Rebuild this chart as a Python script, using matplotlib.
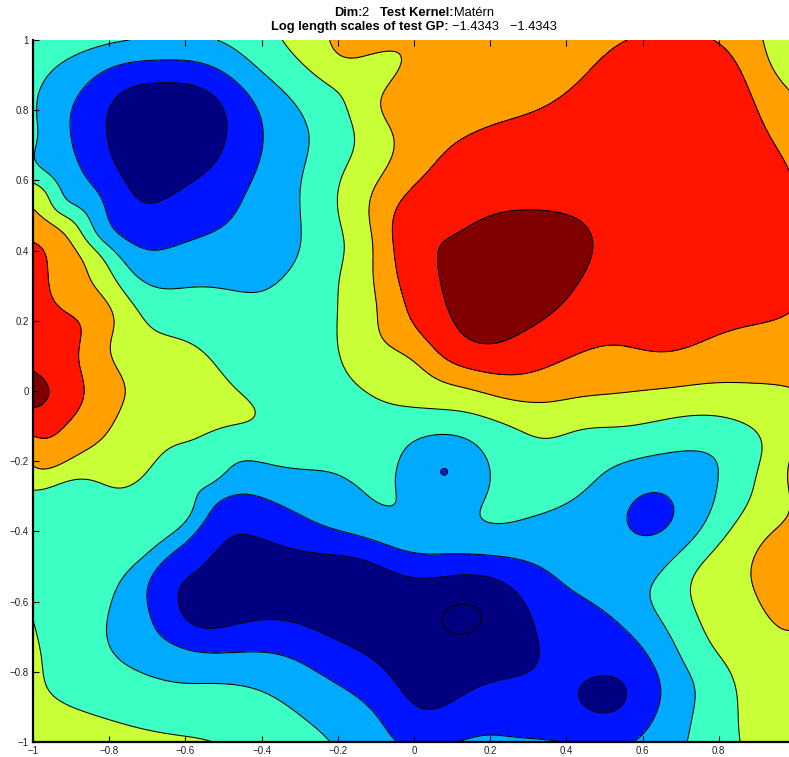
import numpy as np
import matplotlib
matplotlib.use("Agg")
import matplotlib.pyplot as plt

plt.rcParams['font.family'] = ['Liberation Sans', 'DejaVu Sans']

# contour levels (one unit apart) and MATLAB jet(8) band colours
levels = [-4, -3, -2, -1, 0, 1, 2, 3]
band_colors = ['#000080', '#000080', '#0014ff', '#00aaff', '#3cffc3',
               '#c8ff36', '#ffa000', '#ff1400', '#800000']
log_ls = -1.4343

# points read off the contour lines of the picture (x, y) per level
# top-left hole
hole_navy_x = [-0.806, -0.780, -0.719, -0.614, -0.535, -0.491, -0.517, -0.614, -0.701, -0.745, -0.790]
hole_navy_y = [0.735, 0.838, 0.872, 0.877, 0.849, 0.752, 0.658, 0.573, 0.536, 0.573, 0.658]
hole_blue_x = [-0.903, -0.877, -0.790, -0.659, -0.528, -0.430, -0.396, -0.438, -0.517, -0.675, -0.790, -0.832, -0.885]
hole_blue_y = [0.744, 0.849, 0.923, 0.943, 0.923, 0.838, 0.715, 0.573, 0.459, 0.402, 0.467, 0.573, 0.667]
hole_lb_x = [-0.517, -0.396, -0.291, -0.281, -0.299, -0.307, -0.352, -0.483, -0.614, -0.745, -0.832,
             -0.921, -0.990, -0.990, -0.955, -0.832, -0.745]
hole_lb_y = [1.0, 0.906, 0.781, 0.667, 0.524, 0.382, 0.316, 0.288, 0.293, 0.345, 0.430,
             0.524, 0.638, 0.764, 0.906, 0.980, 1.0]

# left edge peak
left_yg_x = [-1.0, -0.903, -0.832, -0.745, -0.633, -0.483, -0.423, -0.438, -0.517, -0.614, -0.719, -0.790, -0.921, -1.0]
left_yg_y = [0.593, 0.507, 0.410, 0.259, 0.154, 0.023, -0.046, -0.091, -0.111, -0.148, -0.254, -0.276, -0.259, -0.282]
left_or_x = [-1.0, -0.921, -0.858, -0.798, -0.780, -0.772, -0.832, -1.0]
left_or_y = [0.510, 0.450, 0.336, 0.145, 0.068, -0.054, -0.148, -0.188]
left_red_x = [-1.0, -0.963, -0.937, -0.877, -0.869, -0.921, -1.0]
left_red_y = [0.422, 0.353, 0.239, 0.068, -0.026, -0.103, -0.131]
left_dr_x = [-1.0, -0.963, -0.955, -0.974, -1.0]
left_dr_y = [0.051, 0.011, -0.006, -0.034, -0.046]

# aquamarine / yellow-green boundary across the middle and right
mid_yg_x = [-0.346, -0.265, -0.186, -0.160, -0.186, -0.194, -0.194, -0.202, -0.168, -0.089, -0.010,
            0.087, 0.260, 0.365, 0.522, 0.698, 0.811, 0.882, 0.916, 0.890, 0.803, 0.732, 0.732,
            0.803, 0.848, 0.856]
mid_yg_y = [1.0, 0.906, 0.829, 0.752, 0.621, 0.479, 0.336, 0.165, 0.040, -0.026, -0.046,
            -0.054, -0.103, -0.134, -0.103, -0.074, -0.074, -0.103, -0.168, -0.282, -0.433, -0.530, -0.604,
            -0.758, -0.872, -1.0]

# top-right high
tr_or_x = [-0.220, -0.168, -0.089, -0.063, -0.081, -0.108, -0.097, -0.081, -0.003, 0.129, 0.260,
           0.436, 0.612, 0.785, 0.874, 0.984, 0.916, 0.942, 0.984]
tr_or_y = [1.0, 0.943, 0.838, 0.752, 0.621, 0.430, 0.239, 0.145, 0.088, 0.011, -0.026,
           -0.017, 0.003, 0.023, 0.023, 0.011, 1.0, 0.923, 0.858]
tr_red_x = [0.559, 0.436, 0.304, 0.173, 0.087, -0.003, -0.058, -0.045, -0.003, 0.087, 0.199,
            0.349, 0.522, 0.654, 0.785, 0.984, 0.785, 0.856, 0.916, 0.984]
tr_red_y = [1.0, 0.886, 0.792, 0.744, 0.687, 0.581, 0.450, 0.336, 0.194, 0.088, 0.051,
            0.068, 0.131, 0.111, 0.154, 0.222, 1.0, 0.915, 0.764, 0.630]
tr_dr_x = [0.063, 0.087, 0.173, 0.304, 0.417, 0.470, 0.436, 0.349, 0.260, 0.192, 0.113, 0.076]
tr_dr_y = [0.353, 0.430, 0.487, 0.516, 0.496, 0.410, 0.316, 0.211, 0.154, 0.134, 0.182, 0.279]

# bottom trough
bt_lb_x = [-0.622, -0.570, -0.483, -0.396, -0.265, -0.134, -0.045, -0.037, -0.010, 0.008, 0.094,
           0.181, 0.199, 0.173, 0.297, 0.383, 0.488, 0.664, 0.785, 0.798, 0.751, 0.646, 0.619,
           0.664, 0.717, 0.732, 0.717, -0.700, -0.798, -0.745, -0.614, -0.438, -0.307, -0.220]
bt_lb_y = [-0.396, -0.274, -0.217, -0.205, -0.225, -0.282, -0.311, -0.197, -0.148, -0.140, -0.125,
           -0.177, -0.262, -0.339, -0.362, -0.330, -0.245, -0.177, -0.188, -0.254, -0.396, -0.519, -0.587,
           -0.681, -0.795, -0.917, -1.0, -0.465, -0.615, -0.786, -0.832, -0.843, -0.917, -1.0]
bt_blue_x = [-0.430, -0.517, -0.570, -0.693, -0.693, -0.614, -0.528, -0.396, -0.220, -0.089, -0.045,
             -0.307, -0.134, -0.010, 0.181, 0.402, 0.575, 0.646, 0.627, 0.575]
bt_blue_y = [-0.296, -0.319, -0.396, -0.538, -0.632, -0.729, -0.746, -0.744, -0.823, -0.937, -1.0,
             -0.348, -0.416, -0.459, -0.467, -0.558, -0.701, -0.832, -0.937, -1.0]
bt_dome_x = [0.115, 0.252, 0.390]
bt_dome_y = [-1.0, -0.985, -1.0]
bt_navy_x = [-0.619, -0.588, -0.483, -0.430, -0.307, -0.134, -0.010, 0.165, 0.270, 0.323, 0.323,
             0.297, 0.139, 0.016, -0.134, -0.307, -0.396, -0.570]
bt_navy_y = [-0.604, -0.538, -0.425, -0.410, -0.453, -0.481, -0.530, -0.524, -0.575, -0.701, -0.775,
             -0.803, -0.860, -0.903, -0.746, -0.661, -0.652, -0.672]
inner_x = [0.076, 0.173, 0.125, 0.125]
inner_y = [-0.655, -0.635, -0.610, -0.690]
small_navy_x = [0.436, 0.554, 0.490, 0.500]
small_navy_y = [-0.850, -0.880, -0.817, -0.915]
small_blue_x = [0.560, 0.680, 0.630, 0.600]
small_blue_y = [-0.360, -0.330, -0.290, -0.410]
right_or_x = [0.984, 0.927, 0.887, 0.908, 0.984]
right_or_y = [-0.348, -0.416, -0.538, -0.604, -0.681]
bl_yg_x = [-1.0, -0.975, -0.955, -0.877, -0.659, -0.528]
bl_yg_y = [-0.652, -0.780, -0.860, -0.909, -0.974, -1.0]

# values read inside the regions (peaks, troughs and plateaus)
inside_x = [-0.65, 0.27, -1.0, -0.25, 0.125, 0.495, 0.62, 0.071, 0.97,
            0.55, 0.75, 0.80, 0.65, 0.30, 0.20, 0.05, 0.90, -0.14, -0.13,
            -0.30, -0.20, 0.45, -0.80, -0.97, -0.45, -0.88, 0.78, 0.85,
            0.45, -0.20, 0.12, -0.72, 0.45, -0.64, 0.20, -0.10, -0.40, 0.20,
            -0.60, -0.82, -0.95, 0.50, 0.90, 0.95, 0.95, -0.97,
            -0.60, -0.80, -0.50, -0.92, -1.0, -0.97, -0.98, -0.90,
            -0.70, -0.65, -0.75, -0.55, -1.0, -0.98, -0.99]
inside_y = [0.72, 0.34, 0.0, -0.60, -0.65, -0.866, -0.35, -0.228, -0.50,
            0.70, 0.75, 0.45, 0.35, 0.65, 0.93, 0.80, 0.10, 0.40, 0.90,
            0.10, -0.10, -0.16, -0.45, 0.97, -0.92, -0.75, -0.80, -0.25,
            -0.40, -0.35, -0.18, -0.72, -0.70, -0.50, -0.92, -0.85, -0.52, -0.72,
            0.0, 0.20, 0.20, -0.06, -0.80, -0.20, 0.93, -0.97,
            -0.33, -0.37, -0.16, -0.42, 0.70, 0.555, 0.47, -0.60,
            -0.32, -0.28, -0.33, -0.25, 0.30, 0.15, -0.20]
inside_v = [-3.6, 3.5, 3.3, -3.6, -4.2, -3.3, -2.3, -2.02, 1.3,
            2.6, 2.5, 2.5, 2.4, 2.5, 1.5, 1.5, 1.5, 0.5, 0.5,
            -0.6, -0.6, -0.5, -0.5, -0.6, -0.5, -0.5, -0.5, -0.5,
            -1.5, -1.5, -1.6, -1.5, -2.6, -2.5, -2.4, -2.5, -3.4, -3.6,
            0.6, 1.5, 2.5, 0.5, 0.6, 0.6, 0.8, 0.4,
            -0.5, -0.5, -0.5, -0.5, -0.85, 0.45, 1.5, -0.4,
            -0.4, -0.4, -0.3, -0.5, 2.5, 2.8, 1.5]

traces = [(-3, hole_navy_x, hole_navy_y), (-2, hole_blue_x, hole_blue_y), (-1, hole_lb_x, hole_lb_y),
          (0, left_yg_x, left_yg_y), (1, left_or_x, left_or_y), (2, left_red_x, left_red_y),
          (3, left_dr_x, left_dr_y), (0, mid_yg_x, mid_yg_y), (1, tr_or_x, tr_or_y),
          (2, tr_red_x, tr_red_y), (3, tr_dr_x, tr_dr_y), (-1, bt_lb_x, bt_lb_y),
          (-2, bt_blue_x, bt_blue_y), (-2, bt_dome_x, bt_dome_y), (-3, bt_navy_x, bt_navy_y),
          (-4, inner_x, inner_y), (-3, small_navy_x, small_navy_y), (-2, small_blue_x, small_blue_y),
          (1, right_or_x, right_or_y), (0, bl_yg_x, bl_yg_y)]

px, py, pv = list(inside_x), list(inside_y), list(inside_v)
for lev, xs, ys in traces:
    px += xs
    py += ys
    pv += [lev] * len(xs)
P = np.column_stack([px, py])
pv = np.array(pv, float)

# smooth surface through the read points (GP mean, Matern 5/2)
ls = np.exp(log_ls)
def matern(a, b):
    d = np.sqrt(((a[:, None, :] - b[None, :, :]) ** 2).sum(-1)) / ls
    return (1 + np.sqrt(5) * d + 5 * d ** 2 / 3) * np.exp(-np.sqrt(5) * d)

alpha = np.linalg.solve(matern(P, P) + 1e-3 * np.eye(len(pv)), pv)
gx = np.linspace(-1, 1, 601)
gy = np.linspace(-1, 1, 601)
Z = np.empty((len(gy), len(gx)))
for i, yv in enumerate(gy):
    G = np.column_stack([gx, np.full_like(gx, yv)])
    Z[i] = matern(G, P) @ alpha

W, H = 789, 757
fig = plt.figure(figsize=(W / 100, H / 100), dpi=100)
ax = fig.add_axes([33 / W, 15 / H, 762 / W, 702 / H])
lo, hi = min(Z.min(), -4) - 1, max(Z.max(), 3) + 1
ax.contourf(gx, gy, Z, levels=[lo] + levels + [hi], colors=band_colors)
ax.contour(gx, gy, Z, levels=levels, colors='k', linewidths=0.75, linestyles='solid')
ax.set_xlim(-1, 1)
ax.set_ylim(-1, 1)
ax.set_xticks(np.arange(-1, 0.81, 0.2))
ax.set_yticks(np.arange(-1, 1.01, 0.2))
ax.set_xticklabels(['\u22121', '\u22120.8', '\u22120.6', '\u22120.4', '\u22120.2', '0', '0.2', '0.4', '0.6', '0.8'])
ax.set_yticklabels(['\u22121', '\u22120.8', '\u22120.6', '\u22120.4', '\u22120.2', '0', '0.2', '0.4', '0.6', '0.8', '1'])
ax.tick_params(direction='in', length=4, width=0.8, labelsize=7, top=True, right=True,
               labelcolor='#222222', pad=3)
for s in ['top', 'right']:
    ax.spines[s].set_visible(False)
for s in ['left', 'bottom']:
    ax.spines[s].set_linewidth(1.6)

# two-line title with bold and normal pieces
title_lines = [[('Dim:', 'bold'), ('2   ', 'normal'), ('Test Kernel:', 'bold'), ('Matérn', 'normal')],
               [('Log length scales of test GP: ', 'bold'), ('\u22121.4343   \u22121.4343', 'normal')]]
title_y = [1 - 13 / H, 1 - 27 / H]
renderer = fig.canvas.get_renderer()
cx = 414 / W
for pieces, yy in zip(title_lines, title_y):
    txts = [fig.text(0, yy, s, fontsize=9.3, fontweight=w, va='center', ha='left') for s, w in pieces]
    widths = [t.get_window_extent(renderer).width / W for t in txts]
    x0 = cx - sum(widths) / 2
    for t, w in zip(txts, widths):
        t.set_x(x0)
        x0 += w

fig.savefig('out.png', dpi=100)
